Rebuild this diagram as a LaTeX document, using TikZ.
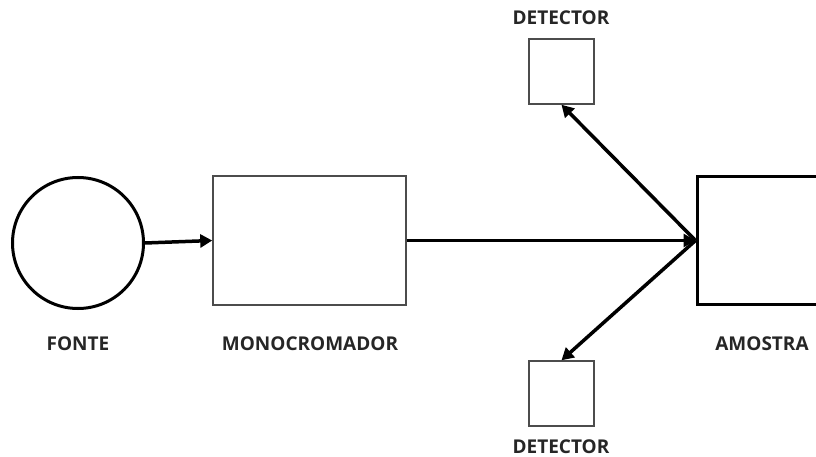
\documentclass[tikz,border=0pt]{standalone}
\usepackage{fontspec}
\setmainfont{Open Sans}
\usetikzlibrary{arrows.meta}
\begin{document}
\begin{tikzpicture}[x=1pt,y=-1pt,
  lbl/.style={font=\bfseries\fontsize{19}{22}\selectfont, text=black!85, inner sep=0pt},
  conn/.style={line width=3.5pt, -{Triangle[length=12pt,width=13pt]}},
  thinbox/.style={draw=black!70, line width=1.5pt, inner sep=0pt},
  thickbox/.style={draw=black, line width=3pt, inner sep=0pt}]
\clip (0,0) rectangle (816,457);
\fill[white] (0,0) rectangle (816,457);
\node[circle, draw=black, line width=3pt, minimum size=131pt, inner sep=0pt] (fonte) at (78,243) {};
\node[thinbox, minimum width=193pt, minimum height=129pt] (mono) at (309.5,240.5) {};
\node[thickbox, minimum width=130pt, minimum height=127pt] (amostra) at (762,240.5) {};
\node[thinbox, minimum width=65pt, minimum height=65pt] (dtop) at (561.5,71.5) {};
\node[thinbox, minimum width=65pt, minimum height=65pt] (dbot) at (561.5,393.5) {};
\node[lbl] (lfonte) at (78,344) {FONTE};
\node[lbl] (lmono) at (310,344) {MONOCROMADOR};
\node[lbl] (lamo) at (762,344) {AMOSTRA};
\node[lbl] (ldtop) at (561,18) {DETECTOR};
\node[lbl] (ldbot) at (561,447) {DETECTOR};
\draw[conn] (fonte.east) -- (mono.west);
\draw[conn] (mono.east) -- (amostra.west);
\draw[conn] (amostra.west) -- (dtop.south);
\draw[conn] (amostra.west) -- (dbot.north);
\end{tikzpicture}
\end{document}
